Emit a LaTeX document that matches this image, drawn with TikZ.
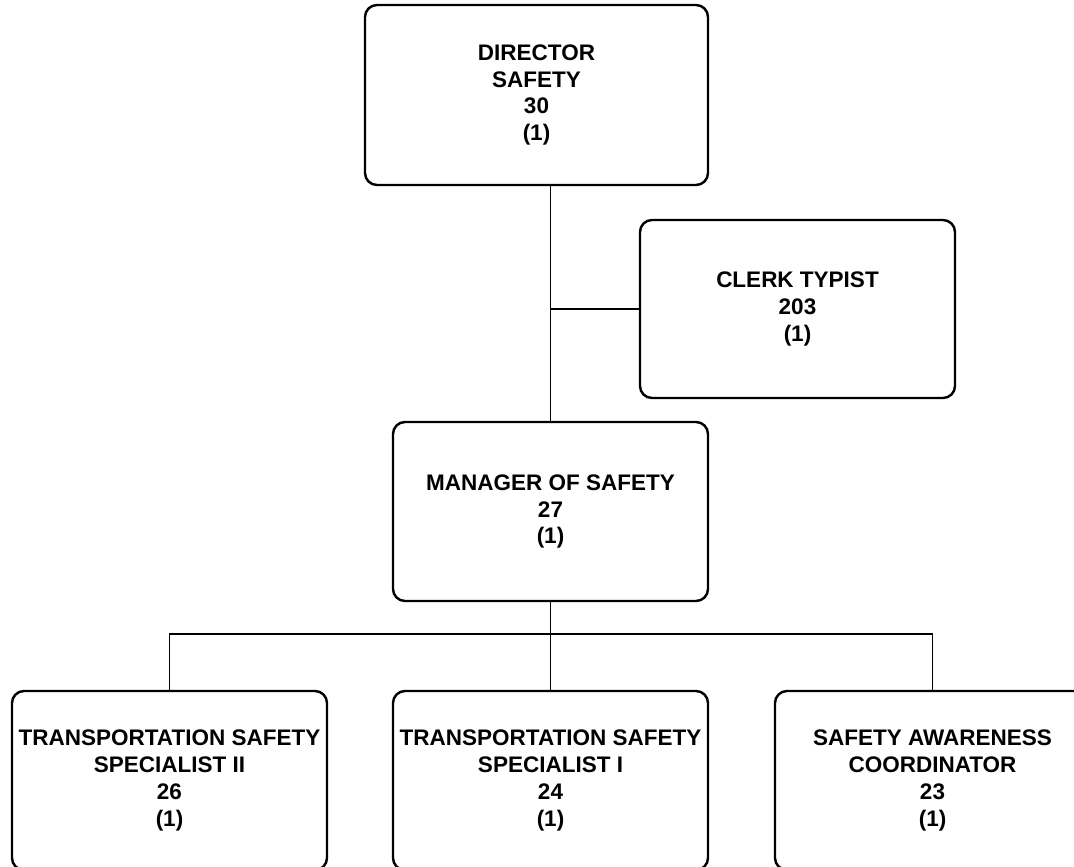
\documentclass[tikz,border=0pt]{standalone}
\usepackage{fontspec}
\setmainfont{Liberation Sans}
\begin{document}
\begin{tikzpicture}[x=1bp,y=-1bp,
  box/.style={draw=black, line width=2.4bp, rounded corners=12bp, align=center,
    inner sep=0pt, font=\bfseries\fontsize{22.5bp}{26.7bp}\selectfont},
  link/.style={draw=black, line width=1.2bp}]
\useasboundingbox (0,0) rectangle (1074,867);
\clip (0,0) rectangle (1074,867);
\node[box, minimum width=343bp, minimum height=180bp] (dir) at (536.5,95) {DIRECTOR\\SAFETY\\30\\(1)};
\node[box, minimum width=315bp, minimum height=178bp] (clerk) at (797.5,309) {CLERK TYPIST\\203\\(1)};
\node[box, minimum width=315bp, minimum height=179bp] (mgr) at (550.5,511.5) {MANAGER OF SAFETY\\27\\(1)};
\node[box, minimum width=315bp, minimum height=179bp] (b1) at (169.5,780.5) {TRANSPORTATION SAFETY\\SPECIALIST II\\26\\(1)};
\node[box, minimum width=315bp, minimum height=179bp] (b2) at (550.5,780.5) {TRANSPORTATION SAFETY\\SPECIALIST I\\24\\(1)};
\node[box, minimum width=315bp, minimum height=179bp] (b3) at (932.5,780.5) {SAFETY AWARENESS\\COORDINATOR\\23\\(1)};
\coordinate (bus) at (0,634);
\draw[link] (dir.south -| mgr.north) -- (mgr.north);
\draw[link] (mgr.north |- clerk.west) -- (clerk.west);
\draw[link] (mgr.south) -- (b2.north);
\draw[link] (b1.north) |- (mgr.south |- bus) -| (b3.north);
\end{tikzpicture}
\end{document}
